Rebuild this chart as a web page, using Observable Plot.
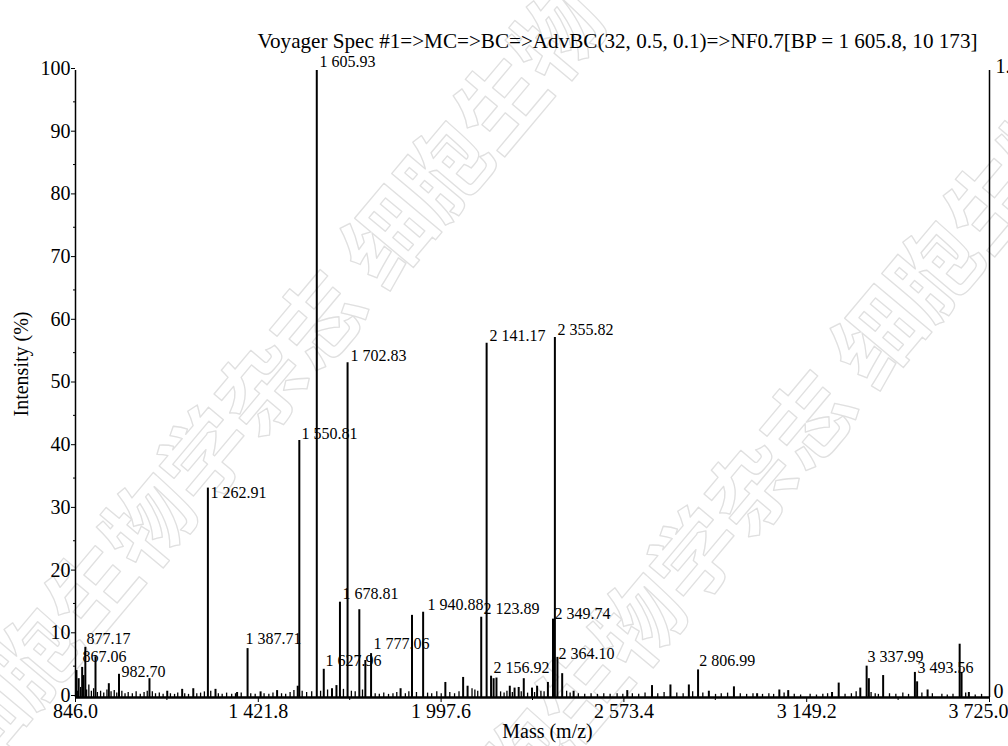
<!DOCTYPE html>
<html><head><meta charset="utf-8">
<script src="https://cdn.jsdelivr.net/npm/d3@7"></script>
<script src="https://cdn.jsdelivr.net/npm/@observablehq/plot@0.6"></script>
<style>body{margin:0;background:#fff;} svg{display:block;}</style>
</head><body><div id="chart"></div>
<script>
const titleText = "Voyager Spec #1=>MC=>BC=>AdvBC(32, 0.5, 0.1)=>NF0.7[BP = 1 605.8, 10 173]";
const xLabel = "Mass (m/z)";
const yLabel = "Intensity (%)";
const xTicks = [846.0, 1421.8, 1997.6, 2573.4, 3149.2, 3725.0];
const xMinorTicks = [1133.9, 1709.7, 2285.5, 2861.3, 3437.1];
const yTicks = [0, 10, 20, 30, 40, 50, 60, 70, 80, 90, 100];
const yMinorTicks = [5, 15, 25, 35, 45, 55, 65, 75, 85, 95];
const rightAxisTop = "1.";
const rightAxisBottom = "0";

// main peaks (m/z, relative intensity %)
const peakMass = [849, 856, 867, 871, 877, 909, 951, 983, 1079, 1135, 1182, 1217, 1263, 1287, 1355, 1388, 1429, 1481, 1546, 1551, 1606, 1628, 1654, 1668, 1679, 1703, 1740, 1759, 1777, 1870, 1906, 1941, 2011, 2067, 2081, 2124, 2141, 2155, 2163, 2172, 2214, 2229, 2242, 2258, 2284, 2300, 2334, 2350, 2356, 2364, 2379, 2415, 2584, 2662, 2720, 2778, 2807, 2841, 2920, 2993, 3063, 3091, 3229, 3250, 3318, 3338, 3345, 3390, 3490, 3497, 3530, 3631, 3637, 3660];
const peakIntensity = [4.3, 3.0, 4.8, 3.5, 8.0, 6.5, 2.2, 3.7, 3.0, 1.0, 1.3, 1.4, 33.4, 1.3, 0.8, 7.8, 0.9, 1.1, 1.8, 41.0, 100, 4.5, 1.4, 1.9, 15.2, 53.4, 14.0, 5.9, 7.0, 1.4, 13.1, 13.6, 2.4, 3.2, 1.8, 12.8, 56.5, 3.4, 3.0, 3.1, 1.8, 1.5, 1.6, 3.0, 1.5, 1.8, 2.4, 12.5, 57.4, 6.4, 3.8, 1.0, 1.1, 1.9, 2.0, 2.0, 4.4, 1.0, 1.7, 0.6, 1.2, 1.1, 0.8, 2.3, 1.5, 5.0, 3.0, 3.5, 4.0, 2.5, 1.2, 8.5, 4.0, 0.8];

// baseline noise peaks [m/z, intensity %]
const noisePeaks = [[853,1.0],[862,1.6],[881,1.2],[888,2.0],[896,1.0],[903,1.4],[915,0.8],[925,1.0],[935,0.7],[945,1.2],[958,0.9],[968,1.1],[976,0.7],[992,1.0],[1002,0.6],[1012,0.8],[1025,0.6],[1037,0.9],[1050,0.5],[1062,0.8],[1072,1.0],[1088,0.9],[1098,0.6],[1110,0.7],[1122,0.5],[1145,0.6],[1158,0.5],[1168,0.7],[1190,0.6],[1202,0.5],[1228,0.6],[1240,0.7],[1252,0.9],[1272,1.0],[1296,0.6],[1308,0.5],[1322,0.7],[1338,0.5],[1350,0.6],[1368,0.7],[1398,0.6],[1412,0.5],[1440,0.6],[1455,0.5],[1468,0.7],[1495,0.6],[1508,0.5],[1522,0.8],[1534,1.1],[1560,1.0],[1574,0.8],[1590,0.9],[1618,1.0],[1640,1.2],[1690,1.3],[1715,1.0],[1727,0.9],[1750,1.2],[1790,0.6],[1803,0.5],[1817,0.7],[1832,0.5],[1846,0.6],[1858,0.8],[1885,0.6],[1896,0.9],[1920,0.8],[1955,0.7],[1968,0.6],[1984,0.9],[1998,0.6],[2025,0.8],[2040,0.6],[2054,0.9],[2095,1.4],[2104,1.2],[2113,1.0],[2185,0.9],[2196,0.7],[2205,1.0],[2222,0.8],[2250,0.9],[2270,0.7],[2292,0.8],[2312,1.0],[2322,0.9],[2393,1.0],[2404,0.7],[2430,0.6],[2450,0.5],[2470,0.6],[2490,0.5],[2510,0.6],[2530,0.5],[2552,0.6],[2570,0.5],[2600,0.6],[2620,0.5],[2640,0.7],[2680,0.6],[2700,0.8],[2740,0.7],[2760,0.6],[2790,0.9],[2822,0.7],[2862,0.5],[2880,0.6],[2900,0.7],[2940,0.6],[2960,0.5],[2980,0.6],[3010,0.5],[3030,0.6],[3045,0.5],[3078,0.7],[3110,0.5],[3130,0.4],[3160,0.5],[3180,0.4],[3200,0.5],[3215,0.6],[3270,0.5],[3290,0.6],[3305,0.9],[3352,0.8],[3365,0.6],[3375,0.5],[3410,0.6],[3430,0.5],[3452,0.7],[3470,0.5],[3512,0.7],[3545,0.6],[3575,0.5],[3592,0.4],[3610,0.5],[3650,0.7],[3680,0.4],[3700,0.5]];

// peak annotations: text, left m/z, intensity of label centre
const labelText = ["877.17", "867.06", "982.70", "1 262.91", "1 387.71", "1 550.81", "1 605.93", "1 627.96", "1 678.81", "1 702.83", "1 777.06", "1 940.88", "2 123.89", "2 141.17", "2 156.92", "2 349.74", "2 355.82", "2 364.10", "2 806.99", "3 337.99", "3 493.56"];
const labelMass = [880.6, 868, 990.9, 1271.2, 1381.4, 1557.8, 1614.5, 1633.4, 1687, 1712, 1784.6, 1954.6, 2131, 2150, 2162.5, 2354.6, 2364, 2367.3, 2811, 3340.5, 3498];
const labelIntensity = [9.4, 6.4, 4.1, 32.7, 9.3, 42.1, 101.3, 5.9, 16.6, 54.5, 8.6, 14.7, 14.2, 57.6, 4.8, 13.4, 58.7, 7.0, 5.9, 6.4, 4.8];

const watermarkText = ["细胞生物学杂志 细胞生物", "细胞生物学杂志 细胞生物"];

const peaks = peakMass.map((m, i) => ({m, h: peakIntensity[i]}));
const noise = noisePeaks.map(([m, h]) => ({m, h}));
const labels = labelText.map((t, i) => ({t, m: labelMass[i], y: labelIntensity[i]}));
const fmt = v => d3.format(",.1f")(v).replace(/,/g, " ");
const lastTick = xTicks[xTicks.length - 1];

const wmStyle = {rotate: -50, textAnchor: "middle", fontSize: 88, fontWeight: "bold", fill: "none", stroke: "#e0e0e0", strokeWidth: 1.3, fontFamily: "Noto Sans CJK SC", text: d => d};

const chart = Plot.plot({
  width: 1008,
  height: 746,
  marginLeft: 75,
  marginRight: 19,
  marginTop: 70,
  marginBottom: 49,
  style: {fontFamily: "'Liberation Serif', 'Times New Roman', serif", color: "black", background: "white"},
  x: {domain: [846, 3725]},
  y: {domain: [0, 100]},
  marks: [
    Plot.text([watermarkText[0]], {frameAnchor: "top-left", dx: 170, dy: 290, ...wmStyle}),
    Plot.text([watermarkText[1]], {frameAnchor: "top-left", dx: 660, dy: 390, ...wmStyle}),
    Plot.ruleX(noise, {x: "m", y1: 0, y2: "h", stroke: "black", strokeWidth: 1.3}),
    Plot.ruleX(peaks, {x: "m", y1: 0, y2: "h", stroke: "black", strokeWidth: 2}),
    Plot.ruleY([0], {stroke: "black", strokeWidth: 2.5}),
    Plot.ruleX([846], {y1: 0, y2: 100, stroke: "black", strokeWidth: 1.5}),
    Plot.ruleX([3725], {y1: 0, y2: 100, stroke: "black", strokeWidth: 1.5}),
    Plot.axisY({ticks: yTicks, tickSize: 4, tickPadding: 1, fontSize: 20, dy: -2, label: null}),
    Plot.axisY({ticks: yMinorTicks, tickSize: 2, text: null, label: null}),
    Plot.axisX({ticks: xTicks, tickSize: 5, text: null, label: null}),
    Plot.axisX({ticks: xTicks.slice(0, -1), tickFormat: fmt, tickSize: 0, tickPadding: 6, fontSize: 20, label: null}),
    Plot.text([lastTick], {x: d => d, y: 0, dx: 19, dy: 6, lineAnchor: "top", textAnchor: "end", fontSize: 20, text: d => fmt(d)}),
    Plot.axisX({ticks: xMinorTicks, tickSize: 3, text: null, label: null}),
    Plot.text([rightAxisTop], {x: 3725, y: 100, dx: 6, dy: -4, textAnchor: "start", fontSize: 20, text: d => d}),
    Plot.text([rightAxisBottom], {x: 3725, y: 0, dx: 4, dy: -6, textAnchor: "start", fontSize: 20, text: d => d}),
    Plot.text(labels, {x: "m", y: "y", text: "t", textAnchor: "start", fontSize: 16}),
    Plot.text([xLabel], {frameAnchor: "bottom", dx: 15, dy: 40, textAnchor: "middle", fontSize: 20, text: d => d}),
    Plot.text([yLabel], {frameAnchor: "left", dx: -54, dy: -20, rotate: -90, textAnchor: "middle", fontSize: 20, text: d => d}),
    Plot.text([titleText], {frameAnchor: "top-right", dx: -12, dy: -37, textAnchor: "end", fontSize: 21, text: d => d})
  ]
});
d3.select(chart).selectAll("text").filter(function() { return this.textContent === titleText; })
  .attr("textLength", 720).attr("lengthAdjust", "spacingAndGlyphs");
document.getElementById("chart").appendChild(chart);
</script>
</body></html>
